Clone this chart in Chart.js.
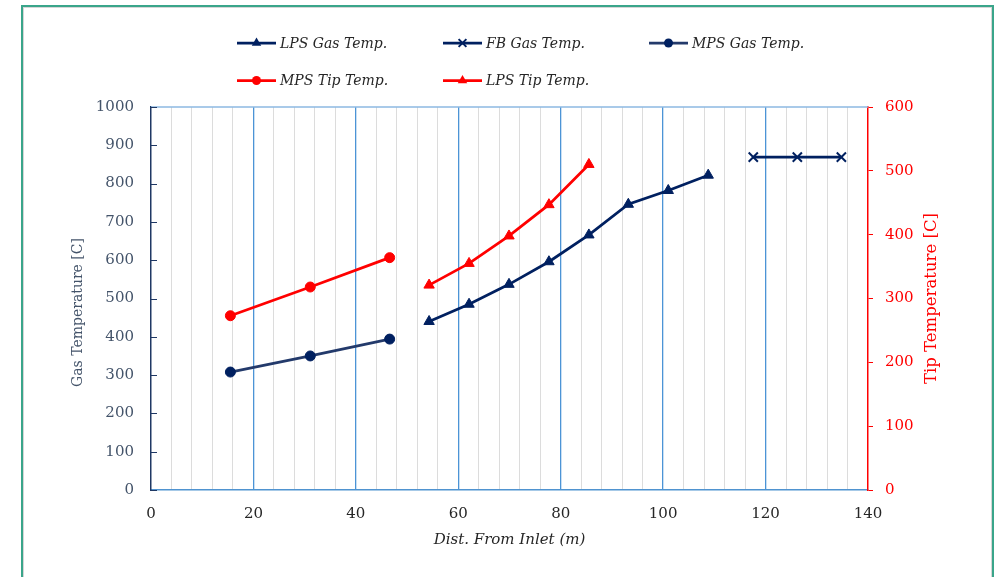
<!DOCTYPE html>
<html>
<head>
<meta charset="utf-8">
<script src="https://cdn.jsdelivr.net/npm/chart.js@4/dist/chart.umd.min.js"></script>
<style>
  html, body { margin: 0; padding: 0; background: #fff; }
  #wrap { position: relative; width: 998px; height: 577px; overflow: hidden; }
  #frame {
    position: absolute; left: 21px; top: 5px; width: 969px; height: 620px;
    border: 2px solid #3aa58a; box-shadow: inset 0 0 0 1px #d6d6d6;
  }
  #chart { position: absolute; left: 0; top: 0; }
</style>
</head>
<body>
<div id="wrap">
  <div id="frame"></div>
  <canvas id="chart" width="998" height="577"></canvas>
</div>
<script>
// distance from inlet (m) for each stage
const mpsDist = [15.5, 31.1, 46.6];
const lpsDist = [54.3, 62.1, 69.9, 77.7, 85.5, 93.2, 101.0, 108.8];
const lpsTipDist = [54.3, 62.1, 69.9, 77.7, 85.5];
const fbDist = [117.6, 126.2, 134.8];

// temperatures [C]
const mpsGasTemp = [308, 350, 394];
const mpsTipTemp = [273, 318, 364];
const lpsGasTemp = [440, 485, 537, 596, 666, 746, 782, 822];
const lpsTipTemp = [321, 355, 398, 447, 510];
const fbGasTemp = [869, 869, 869];

// x axis: a grid line every 4 m, labelled every 20 m
const X_MAX = 140;
const X_MINOR = 4;
const X_MAJOR = 20;

const NAVY = '#002060';
const RED = '#ff0000';
const FONT = '"DejaVu Serif", serif';

const pts = (xs, ys) => xs.map((x, i) => ({ x: x, y: ys[i] }));

function series(label, data, color, style, radius, axis) {
  return {
    label: label,
    data: data,
    yAxisID: axis,
    showLine: true,
    borderColor: color,
    backgroundColor: color,
    borderWidth: 2.75,
    pointStyle: style,
    pointRadius: radius,
    pointBackgroundColor: color,
    pointBorderColor: color,
    pointBorderWidth: style === 'crossRot' ? 2 : 1,
  };
}

const datasets = [
  series('LPS Gas Temp.', pts(lpsDist, lpsGasTemp), NAVY, 'triangle', 6, 'yGas'),
  series('FB Gas Temp.', pts(fbDist, fbGasTemp), NAVY, 'crossRot', 6.5, 'yGas'),
  series('MPS Gas Temp.', pts(mpsDist, mpsGasTemp), '#233a6b', 'circle', 5, 'yGas'),
  series('MPS Tip Temp.', pts(mpsDist, mpsTipTemp), RED, 'circle', 5, 'yTip'),
  series('LPS Tip Temp.', pts(lpsTipDist, lpsTipTemp), RED, 'triangle', 6, 'yTip'),
];
datasets[2].pointBackgroundColor = NAVY;
datasets[2].pointBorderColor = NAVY;

function marker(ctx, style, x, y, r, color) {
  ctx.fillStyle = color;
  ctx.strokeStyle = color;
  ctx.beginPath();
  if (style === 'circle') {
    ctx.arc(x, y, r, 0, Math.PI * 2);
    ctx.fill();
  } else if (style === 'triangle') {
    for (let k = 0; k < 3; k++) {
      const a = k * 2 * Math.PI / 3;
      const px = x + Math.sin(a) * r, py = y - Math.cos(a) * r;
      if (k === 0) ctx.moveTo(px, py); else ctx.lineTo(px, py);
    }
    ctx.closePath();
    ctx.fill();
  } else {
    const d = r * Math.SQRT1_2;
    ctx.lineWidth = 2;
    ctx.moveTo(x - d, y - d); ctx.lineTo(x + d, y + d);
    ctx.moveTo(x + d, y - d); ctx.lineTo(x - d, y + d);
    ctx.stroke();
  }
}

function verticalText(ctx, text, x, y, size, color) {
  ctx.save();
  ctx.translate(x, y);
  ctx.rotate(-Math.PI / 2);
  ctx.fillStyle = color;
  ctx.font = size + 'px ' + FONT;
  ctx.textAlign = 'center';
  ctx.textBaseline = 'middle';
  ctx.fillText(text, 0, 0);
  ctx.restore();
}

// legend laid out in a 3-column grid above the plot, plus the extra axis decorations
const decorations = {
  id: 'decorations',
  beforeDatasetsDraw(chart) {
    const { ctx, chartArea: a } = chart;
    ctx.save();
    // top edge of the plot area
    ctx.strokeStyle = '#8db9e2';
    ctx.lineWidth = 1.5;
    ctx.beginPath();
    ctx.moveTo(a.left, a.top);
    ctx.lineTo(a.right, a.top);
    ctx.stroke();
    // inward tick marks on the gas temperature axis
    const yGas = chart.scales.yGas;
    ctx.strokeStyle = '#1f3864';
    ctx.lineWidth = 1;
    yGas.ticks.forEach(t => {
      const y = Math.round(yGas.getPixelForValue(t.value)) + 0.5;
      ctx.beginPath();
      ctx.moveTo(a.left, y);
      ctx.lineTo(a.left + 6, y);
      ctx.stroke();
    });
    ctx.restore();
  },
  afterDraw(chart) {
    const { ctx, chartArea: a } = chart;
    const mid = (a.top + a.bottom) / 2;
    verticalText(ctx, 'Gas Temperature [C]', 78, mid + 14, 14, '#44546a');
    verticalText(ctx, 'Tip Temperature [C]', 932, mid, 16.5, RED);

    ctx.save();
    ctx.font = 'italic 14px ' + FONT;
    ctx.textBaseline = 'middle';
    chart.data.datasets.forEach((ds, i) => {
      const x = 237 + (i % 3) * 206;
      const y = 43 + Math.floor(i / 3) * 37.5;
      ctx.strokeStyle = ds.borderColor;
      ctx.lineWidth = 2.75;
      ctx.beginPath();
      ctx.moveTo(x, y);
      ctx.lineTo(x + 39, y);
      ctx.stroke();
      const r = ds.pointStyle === 'circle' ? 4.5 : 5.5;
      marker(ctx, ds.pointStyle, x + 19.5, y, r, ds.pointBackgroundColor);
      ctx.fillStyle = '#262626';
      ctx.textAlign = 'left';
      ctx.fillText(ds.label, x + 43, y + 1);
    });
    ctx.restore();
  }
};

new Chart(document.getElementById('chart'), {
  type: 'scatter',
  data: { datasets: datasets },
  options: {
    responsive: false,
    animation: false,
    devicePixelRatio: 1,
    layout: { padding: { left: 69, right: 0, top: 107, bottom: 28 } },
    plugins: { legend: { display: false }, tooltip: { enabled: false } },
    scales: {
      x: {
        type: 'linear',
        min: 0,
        max: X_MAX,
        afterFit: s => { s.height = 59; },
        afterBuildTicks: s => {
          const ticks = [];
          for (let v = 0; v <= X_MAX; v += X_MINOR) ticks.push({ value: v });
          s.ticks = ticks;
        },
        grid: {
          drawTicks: false,
          lineWidth: c => (c.tick && c.tick.value % X_MAJOR === 0 ? 1.3 : 1),
          color: c => {
            const v = c.tick ? c.tick.value : -1;
            if (v === 0 || v === X_MAX) return 'rgba(0,0,0,0)';
            return v % X_MAJOR === 0 ? '#4c94d6' : '#dcdcdc';
          },
        },
        border: { color: '#4f93d0', width: 1.5 },
        ticks: {
          autoSkip: false,
          maxRotation: 0,
          padding: 15,
          color: '#262626',
          font: { family: FONT, size: 15 },
          // empty label keeps the minor grid line
          callback: v => (v % X_MAJOR === 0 ? String(v) : ''),
        },
        title: {
          display: true,
          text: 'Dist. From Inlet (m)',
          color: '#262626',
          padding: 0,
          font: { family: FONT, size: 15, style: 'italic' },
        },
      },
      yGas: {
        type: 'linear',
        position: 'left',
        min: 0,
        max: 1000,
        afterFit: s => { s.width = 82; },
        grid: { display: false, drawTicks: false },
        border: { color: '#1f3864', width: 1.5 },
        ticks: {
          stepSize: 100,
          padding: 17,
          color: '#44546a',
          font: { family: FONT, size: 15 },
          callback: v => String(v),
        },
      },
      yTip: {
        type: 'linear',
        position: 'right',
        min: 0,
        max: 600,
        afterFit: s => { s.width = 130; },
        grid: { drawOnChartArea: false, drawTicks: true, tickLength: 5, color: RED },
        border: { color: RED, width: 1.5 },
        ticks: {
          stepSize: 100,
          padding: 12,
          color: RED,
          font: { family: FONT, size: 15 },
          callback: v => String(v),
        },
      },
    },
  },
  plugins: [decorations],
});
</script>
</body>
</html>
